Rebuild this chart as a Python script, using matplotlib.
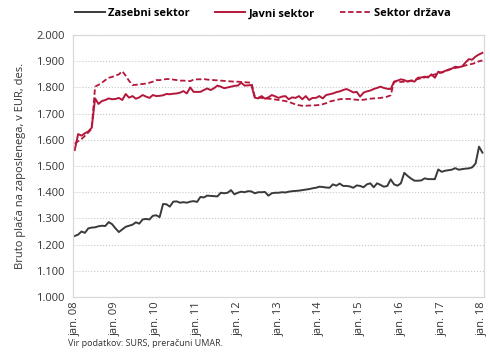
import matplotlib
matplotlib.use("Agg")
import matplotlib.pyplot as plt
from matplotlib.ticker import FuncFormatter
import numpy as np

# monthly, jan. 2008 .. jan. 2018 (EUR)
zasebni = [
    1233, 1238, 1250, 1245, 1262, 1265, 1266, 1270, 1272, 1271, 1286, 1278,
    1262, 1248, 1258, 1268, 1272, 1276, 1285, 1280, 1296, 1298, 1296, 1310,
    1312, 1305, 1355, 1354, 1345, 1364, 1365, 1360, 1362, 1360, 1364, 1366,
    1363, 1382, 1380, 1387, 1386, 1385, 1384, 1398, 1396, 1398, 1408, 1392,
    1398, 1402, 1400, 1404, 1403, 1396, 1400, 1400, 1401, 1387, 1396, 1398,
    1398, 1400, 1399, 1402, 1404, 1405, 1406, 1408, 1410, 1412, 1415, 1417,
    1421, 1420, 1418, 1417, 1430, 1425, 1433, 1424, 1424, 1422, 1417, 1426,
    1424, 1419, 1430, 1434, 1419, 1434, 1428, 1421, 1424, 1449, 1430, 1425,
    1434, 1474, 1462, 1452, 1444, 1444, 1445, 1453, 1450, 1450, 1450, 1487,
    1478, 1482, 1484, 1486, 1492, 1486, 1488, 1490, 1491, 1495, 1510, 1574,
    1551,
]
javni = [
    1561, 1622, 1616, 1625, 1632, 1646, 1758, 1737, 1748, 1752, 1758, 1755,
    1756, 1760, 1752, 1775, 1761, 1767, 1757, 1762, 1771, 1765, 1760, 1771,
    1767, 1768, 1770, 1775, 1774, 1776, 1777, 1780, 1786, 1777, 1800, 1783,
    1783, 1783, 1790, 1796, 1790, 1797, 1807, 1803, 1797, 1800, 1803, 1806,
    1807, 1818, 1807, 1808, 1809, 1761, 1758, 1767, 1757, 1762, 1771, 1766,
    1760, 1765, 1767, 1755, 1762, 1760, 1767, 1755, 1767, 1752, 1760, 1760,
    1767, 1758, 1771, 1774, 1777, 1782, 1785, 1790, 1794, 1788, 1781, 1783,
    1765, 1780, 1785, 1788, 1794, 1798, 1803, 1798, 1795, 1794, 1822, 1826,
    1831, 1828, 1822, 1826, 1822, 1837, 1838, 1841, 1838, 1850, 1837, 1860,
    1856, 1863, 1868, 1872, 1879, 1877, 1880, 1895, 1908, 1906, 1918, 1926,
    1932,
]
drzava = [
    1585, 1595, 1603, 1615, 1628, 1642, 1803, 1810, 1818, 1828, 1837, 1840,
    1845, 1850, 1862, 1845, 1825, 1809, 1810, 1812, 1813, 1815, 1818, 1822,
    1828, 1828, 1830, 1832, 1832, 1830, 1828, 1826, 1826, 1825, 1824, 1830,
    1831, 1831, 1832, 1830, 1829, 1828, 1827, 1826, 1825, 1824, 1823, 1822,
    1822, 1821, 1820, 1819, 1818, 1765, 1762, 1760, 1758, 1757, 1756, 1754,
    1752, 1750, 1748, 1745, 1740, 1735, 1732, 1730, 1730, 1731, 1731, 1732,
    1733, 1736, 1740, 1746, 1749, 1752, 1755, 1756, 1756, 1756, 1754, 1753,
    1752, 1753, 1755, 1757, 1758, 1759, 1760, 1762, 1765, 1770, 1822, 1822,
    1821, 1822, 1824, 1826, 1829, 1832, 1835, 1838, 1842, 1846, 1850, 1854,
    1858, 1862, 1866, 1872, 1874, 1877, 1880, 1884, 1887, 1890, 1894, 1900,
    1903,
]
tick_labels = ["jan. 08", "jan. 09", "jan. 10", "jan. 11", "jan. 12", "jan. 13",
               "jan. 14", "jan. 15", "jan. 16", "jan. 17", "jan. 18"]

RED = "#b5173b"
GREY = "#3a3a3a"

plt.rcParams["font.family"] = ["Open Sans", "DejaVu Sans"]

fig = plt.figure(figsize=(4.9, 3.54), dpi=100)
ax = fig.add_axes([0.149, 0.161, 0.839, 0.740])

x = np.arange(len(zasebni))
ax.plot(x, zasebni, color=GREY, lw=1.4, label="Zasebni sektor")
ax.plot(x, javni, color=RED, lw=1.4, label="Javni sektor")
ax.plot(x, drzava, color=RED, lw=1.3, ls=(0, (3, 1.5)), label="Sektor država")

ax.set_xlim(-0.5, 120.5)
ax.set_ylim(1000, 2000)
ax.set_yticks(np.arange(1000, 2001, 100))
ax.yaxis.set_major_formatter(FuncFormatter(lambda v, p: f"{v/1000:.3f}"))
ax.set_xticks(np.arange(0, 121, 12))
ax.set_xticklabels(tick_labels, rotation=90)
ax.tick_params(axis="both", length=0, labelsize=8, colors="#333333")
ax.tick_params(axis="y", pad=6)
ax.tick_params(axis="x", pad=3)
ax.grid(axis="y", color="#c8c8c8", ls=":", lw=0.8)
ax.set_axisbelow(True)
for s in ax.spines.values():
    s.set_color("#d9d9d9")
    s.set_linewidth(0.9)

ax.set_ylabel("Bruto plača na zaposlenega, v EUR, des.", fontsize=8,
              color="#333333", labelpad=7)

leg = fig.legend(loc="upper center", bbox_to_anchor=(0.536, 1.005), ncol=3,
                 frameon=False, handlelength=2.7, columnspacing=2.3,
                 handletextpad=0.3, prop={"weight": "bold", "size": 8})

fig.text(0.139, 0.022, "Vir podatkov: SURS, preračuni UMAR.", fontsize=6.5,
         color="#333333")

fig.savefig("out.png", dpi=100)
